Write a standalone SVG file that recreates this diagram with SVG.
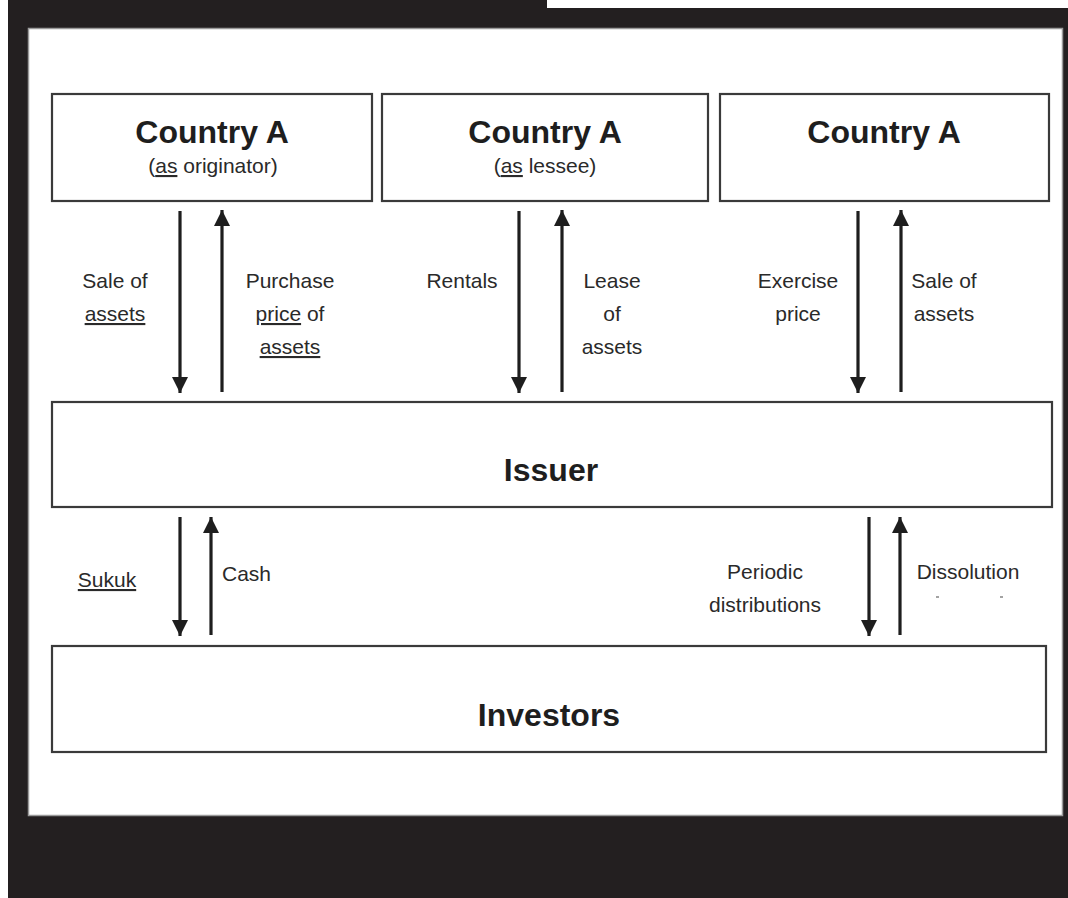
<svg xmlns="http://www.w3.org/2000/svg" width="1068" height="898" viewBox="0 0 1068 898">
<defs>
<marker id="ah" viewBox="0 0 16 16" refX="16" refY="8" markerWidth="16" markerHeight="16" markerUnits="userSpaceOnUse" orient="auto">
<path d="M0,0 L16,8 L0,16 Z" fill="#1e1e1e"/>
</marker>
<style>
.box{fill:#fff;stroke:#3a3a3a;stroke-width:2.2}
.title{font-family:"Liberation Sans",Arial,sans-serif;font-weight:bold;font-size:32px;fill:#1e1e1e;text-anchor:middle}
.sub{font-family:"Liberation Sans",Arial,sans-serif;font-size:21px;fill:#2a2a2a;text-anchor:middle}
.lbl{font-family:"Liberation Sans",Arial,sans-serif;font-size:21px;fill:#2a2a2a;text-anchor:middle}
.u{text-decoration:underline}
.arr{stroke:#1e1e1e;stroke-width:3.2;fill:none;marker-end:url(#ah)}
</style>
</defs>
<rect x="0" y="0" width="1068" height="898" fill="#fff"/>
<rect x="8" y="0" width="1060" height="898" fill="#231f20"/>
<rect x="547" y="0" width="521" height="8" fill="#fff"/>
<rect x="28.5" y="28.5" width="1034" height="787" fill="#fff" stroke="#9a9a9a" stroke-width="1.5"/>

<g id="node-country-originator">
<rect class="box" x="52" y="94" width="320" height="107"/>
<text class="title" x="212" y="143">Country A</text>
<text class="sub" x="213" y="173">(<tspan class="u">as</tspan> originator)</text>
</g>
<g id="node-country-lessee">
<rect class="box" x="382" y="94" width="326" height="107"/>
<text class="title" x="545" y="143">Country A</text>
<text class="sub" x="545" y="173">(<tspan class="u">as</tspan> lessee)</text>
</g>
<g id="node-country">
<rect class="box" x="720" y="94" width="329" height="107"/>
<text class="title" x="884" y="143">Country A</text>
</g>
<g id="node-issuer">
<rect class="box" x="52" y="402" width="1000" height="105"/>
<text class="title" x="551" y="481">Issuer</text>
</g>
<g id="node-investors">
<rect class="box" x="52" y="646" width="994" height="106"/>
<text class="title" x="549" y="726">Investors</text>
</g>

<g id="connectors">
<line class="arr" x1="180" y1="211" x2="180" y2="393"/>
<line class="arr" x1="222" y1="392" x2="222" y2="210"/>
<line class="arr" x1="519" y1="211" x2="519" y2="393"/>
<line class="arr" x1="562" y1="392" x2="562" y2="210"/>
<line class="arr" x1="858" y1="211" x2="858" y2="393"/>
<line class="arr" x1="901" y1="392" x2="901" y2="210"/>
<line class="arr" x1="180" y1="517" x2="180" y2="636"/>
<line class="arr" x1="211" y1="635" x2="211" y2="517"/>
<line class="arr" x1="869" y1="517" x2="869" y2="636"/>
<line class="arr" x1="900" y1="635" x2="900" y2="517"/>
</g>

<g id="labels">
<text class="lbl" x="115" y="288">Sale of</text>
<text class="lbl" x="115" y="321"><tspan class="u">assets</tspan></text>
<text class="lbl" x="290" y="288">Purchase</text>
<text class="lbl" x="290" y="321"><tspan class="u">price</tspan> of</text>
<text class="lbl" x="290" y="354"><tspan class="u">assets</tspan></text>
<text class="lbl" x="462" y="288">Rentals</text>
<text class="lbl" x="612" y="288">Lease</text>
<text class="lbl" x="612" y="321">of</text>
<text class="lbl" x="612" y="354">assets</text>
<text class="lbl" x="798" y="288">Exercise</text>
<text class="lbl" x="798" y="321">price</text>
<text class="lbl" x="944" y="288">Sale of</text>
<text class="lbl" x="944" y="321">assets</text>
<text class="lbl" x="107" y="587"><tspan class="u">Sukuk</tspan></text>
<text class="lbl" x="222" y="581" style="text-anchor:start">Cash</text>
<text class="lbl" x="765" y="579">Periodic</text>
<text class="lbl" x="765" y="612">distributions</text>
<text class="lbl" x="968" y="579">Dissolution</text>
<line x1="936" y1="597" x2="939" y2="597" stroke="#666" stroke-width="1.2"/>
<line x1="1000" y1="597" x2="1003" y2="597" stroke="#666" stroke-width="1.2"/>
</g>
</svg>
